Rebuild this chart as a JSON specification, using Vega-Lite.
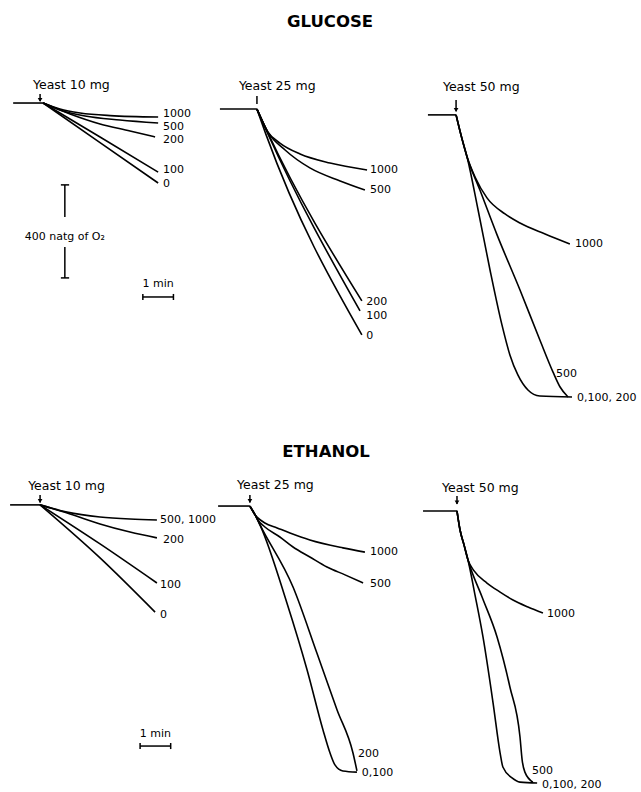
{
  "$schema": "https://vega.github.io/schema/vega-lite/v6.json",
  "background": "white",
  "padding": 0,
  "spacing": 25,
  "config": {"view": {"stroke": null}, "font": "DejaVu Sans", "text": {"color": "black", "font": "DejaVu Sans"}},
  "vconcat": [
    {
      "data": {"values": [
        {"yeast":25,"k":"title","txt":"GLUCOSE","t":2.49,"v":1668},
        {"yeast":10,"k":"trace","c":"base","t":-1.07,"v":1320},{"yeast":10,"k":"trace","c":"base","t":-0.09,"v":1320},
        {"yeast":10,"k":"trace","c":"1000","t":-0.09,"v":1320},{"yeast":10,"k":"trace","c":"1000","t":0.46,"v":1294},{"yeast":10,"k":"trace","c":"1000","t":1.12,"v":1277},{"yeast":10,"k":"trace","c":"1000","t":2.10,"v":1266},{"yeast":10,"k":"trace","c":"1000","t":3.67,"v":1260},
        {"yeast":10,"k":"trace","c":"500","t":-0.09,"v":1320},{"yeast":10,"k":"trace","c":"500","t":0.46,"v":1290},{"yeast":10,"k":"trace","c":"500","t":1.28,"v":1264},{"yeast":10,"k":"trace","c":"500","t":2.42,"v":1247},{"yeast":10,"k":"trace","c":"500","t":3.67,"v":1234},
        {"yeast":10,"k":"trace","c":"200","t":-0.09,"v":1320},{"yeast":10,"k":"trace","c":"200","t":0.79,"v":1273},{"yeast":10,"k":"trace","c":"200","t":1.77,"v":1230},{"yeast":10,"k":"trace","c":"200","t":2.75,"v":1200},{"yeast":10,"k":"trace","c":"200","t":3.57,"v":1174},
        {"yeast":10,"k":"trace","c":"100","t":-0.09,"v":1320},{"yeast":10,"k":"trace","c":"100","t":1.77,"v":1174},{"yeast":10,"k":"trace","c":"100","t":3.67,"v":1023},
        {"yeast":10,"k":"trace","c":"0","t":-0.09,"v":1320},{"yeast":10,"k":"trace","c":"0","t":1.77,"v":1150},{"yeast":10,"k":"trace","c":"0","t":3.67,"v":976},
        {"yeast":10,"k":"label","txt":"1000","t":3.83,"v":1273},{"yeast":10,"k":"label","txt":"500","t":3.83,"v":1217},{"yeast":10,"k":"label","txt":"200","t":3.83,"v":1161},{"yeast":10,"k":"label","txt":"100","t":3.83,"v":1032},{"yeast":10,"k":"label","txt":"0","t":3.83,"v":972},
        {"yeast":10,"k":"yeastlab","txt":"Yeast 10 mg","t":-0.42,"v":1398},
        {"yeast":10,"k":"scale","t":-0.19,"t2":-0.19,"v":1359,"v2":1329},
        {"yeast":10,"k":"head","t":-0.19,"v":1333},
        {"yeast":10,"k":"scaletext","txt":"400 natg of O₂","t":0.62,"v":744},
        {"yeast":10,"k":"scaletext","txt":"1 min","t":3.67,"v":542},
        {"yeast":10,"k":"scale","t":0.62,"t2":0.62,"v":968,"v2":830},
        {"yeast":10,"k":"scale","t":0.62,"t2":0.62,"v":701,"v2":568},
        {"yeast":10,"k":"scale","t":0.49,"t2":0.76,"v":968,"v2":968},
        {"yeast":10,"k":"scale","t":0.49,"t2":0.76,"v":568,"v2":568},
        {"yeast":10,"k":"scale","t":3.17,"t2":4.17,"v":486,"v2":486},
        {"yeast":10,"k":"scale","t":3.17,"t2":3.17,"v":499,"v2":473},
        {"yeast":10,"k":"scale","t":4.17,"t2":4.17,"v":499,"v2":473},

        {"yeast":25,"k":"trace","c":"base","t":-1.11,"v":1294},{"yeast":25,"k":"trace","c":"base","t":0.10,"v":1294},
        {"yeast":25,"k":"trace","c":"1000","t":0.10,"v":1294},{"yeast":25,"k":"trace","c":"1000","t":0.46,"v":1195},{"yeast":25,"k":"trace","c":"1000","t":0.85,"v":1148},{"yeast":25,"k":"trace","c":"1000","t":1.51,"v":1101},{"yeast":25,"k":"trace","c":"1000","t":2.49,"v":1062},{"yeast":25,"k":"trace","c":"1000","t":3.70,"v":1032},
        {"yeast":25,"k":"trace","c":"500","t":0.10,"v":1294},{"yeast":25,"k":"trace","c":"500","t":0.46,"v":1195},{"yeast":25,"k":"trace","c":"500","t":1.02,"v":1118},{"yeast":25,"k":"trace","c":"500","t":1.83,"v":1041},{"yeast":25,"k":"trace","c":"500","t":2.82,"v":985},{"yeast":25,"k":"trace","c":"500","t":3.63,"v":946},
        {"yeast":25,"k":"trace","c":"200","t":0.10,"v":1294},{"yeast":25,"k":"trace","c":"200","t":0.46,"v":1191},{"yeast":25,"k":"trace","c":"200","t":3.53,"v":469},
        {"yeast":25,"k":"trace","c":"100","t":0.10,"v":1294},{"yeast":25,"k":"trace","c":"100","t":0.46,"v":1187},{"yeast":25,"k":"trace","c":"100","t":3.47,"v":426},
        {"yeast":25,"k":"trace","c":"0","t":0.10,"v":1294},{"yeast":25,"k":"trace","c":"0","t":0.40,"v":1183},{"yeast":25,"k":"trace","c":"0","t":3.53,"v":323},
        {"yeast":25,"k":"label","txt":"1000","t":3.80,"v":1032},{"yeast":25,"k":"label","txt":"500","t":3.80,"v":946},{"yeast":25,"k":"label","txt":"200","t":3.67,"v":464},{"yeast":25,"k":"label","txt":"100","t":3.67,"v":404},{"yeast":25,"k":"label","txt":"0","t":3.67,"v":318},
        {"yeast":25,"k":"yeastlab","txt":"Yeast 25 mg","t":-0.49,"v":1393},
        {"yeast":25,"k":"scale","t":0.10,"t2":0.10,"v":1350,"v2":1316},

        {"yeast":50,"k":"trace","c":"base","t":-1.11,"v":1269},{"yeast":50,"k":"trace","c":"base","t":-0.19,"v":1269},
        {"yeast":50,"k":"trace","c":"1000","t":-0.19,"v":1269},{"yeast":50,"k":"trace","c":"1000","t":-0.03,"v":1183},{"yeast":50,"k":"trace","c":"1000","t":0.17,"v":1088},{"yeast":50,"k":"trace","c":"1000","t":0.43,"v":1002},{"yeast":50,"k":"trace","c":"1000","t":0.82,"v":912},{"yeast":50,"k":"trace","c":"1000","t":1.41,"v":843},{"yeast":50,"k":"trace","c":"1000","t":1.90,"v":804},{"yeast":50,"k":"trace","c":"1000","t":2.72,"v":757},{"yeast":50,"k":"trace","c":"1000","t":3.53,"v":714},
        {"yeast":50,"k":"trace","c":"500","t":-0.19,"v":1269},{"yeast":50,"k":"trace","c":"500","t":-0.03,"v":1183},{"yeast":50,"k":"trace","c":"500","t":0.17,"v":1088},{"yeast":50,"k":"trace","c":"500","t":0.59,"v":946},{"yeast":50,"k":"trace","c":"500","t":1.15,"v":753},{"yeast":50,"k":"trace","c":"500","t":1.90,"v":516},{"yeast":50,"k":"trace","c":"500","t":2.55,"v":301},{"yeast":50,"k":"trace","c":"500","t":2.98,"v":163},{"yeast":50,"k":"trace","c":"500","t":3.21,"v":99},{"yeast":50,"k":"trace","c":"500","t":3.47,"v":56},
        {"yeast":50,"k":"trace","c":"0,100,200","t":-0.19,"v":1269},{"yeast":50,"k":"trace","c":"0,100,200","t":-0.03,"v":1183},{"yeast":50,"k":"trace","c":"0,100,200","t":0.17,"v":1088},{"yeast":50,"k":"trace","c":"0,100,200","t":0.53,"v":860},{"yeast":50,"k":"trace","c":"0,100,200","t":0.92,"v":602},{"yeast":50,"k":"trace","c":"0,100,200","t":1.31,"v":366},{"yeast":50,"k":"trace","c":"0,100,200","t":1.57,"v":237},{"yeast":50,"k":"trace","c":"0,100,200","t":1.83,"v":151},{"yeast":50,"k":"trace","c":"0,100,200","t":2.16,"v":86},{"yeast":50,"k":"trace","c":"0,100,200","t":2.55,"v":60},{"yeast":50,"k":"trace","c":"0,100,200","t":3.60,"v":56},
        {"yeast":50,"k":"label","txt":"1000","t":3.70,"v":714},{"yeast":50,"k":"label","txt":"500","t":3.08,"v":155},{"yeast":50,"k":"label","txt":"0,100, 200","t":3.76,"v":52},
        {"yeast":50,"k":"yeastlab","txt":"Yeast 50 mg","t":-0.62,"v":1389},
        {"yeast":50,"k":"scale","t":-0.19,"t2":-0.19,"v":1333,"v2":1285},
        {"yeast":50,"k":"head","t":-0.19,"v":1290}
      ]},
      "facet": {"column": {"field": "yeast", "type": "ordinal", "header": {"title": null, "labels": false}}},
      "spacing": 0,
      "bounds": "flush",
      "spec": {
        "width": 208,
        "height": 410,
        "encoding": {
          "x": {"field": "t", "type": "quantitative", "scale": {"domain": [-1.5, 5.3], "nice": false, "zero": false}, "axis": null},
          "y": {"field": "v", "type": "quantitative", "scale": {"domain": [0, 1763], "nice": false, "zero": false}, "axis": null}
        },
        "layer": [
          {"transform": [{"filter": "datum.k === 'trace'"}], "mark": {"type": "line", "color": "black", "strokeWidth": 1.6, "interpolate": "monotone", "strokeJoin": "round"}, "encoding": {"detail": {"field": "c"}}},
          {"transform": [{"filter": "datum.k === 'scale'"}], "mark": {"type": "rule", "color": "black", "strokeWidth": 1.5}, "encoding": {"x2": {"field": "t2"}, "y2": {"field": "v2"}}},
          {"transform": [{"filter": "datum.k === 'head'"}], "mark": {"type": "point", "shape": "triangle-down", "filled": true, "color": "black", "opacity": 1, "size": 22}},
          {"transform": [{"filter": "datum.k === 'label'"}], "mark": {"type": "text", "align": "left", "baseline": "middle", "fontSize": 11, "color": "black"}, "encoding": {"text": {"field": "txt"}}},
          {"transform": [{"filter": "datum.k === 'yeastlab'"}], "mark": {"type": "text", "align": "left", "baseline": "middle", "fontSize": 12.5, "color": "black"}, "encoding": {"text": {"field": "txt"}}},
          {"transform": [{"filter": "datum.k === 'scaletext'"}], "mark": {"type": "text", "align": "center", "baseline": "middle", "fontSize": 11, "color": "black"}, "encoding": {"text": {"field": "txt"}}},
          {"transform": [{"filter": "datum.k === 'title'"}], "mark": {"type": "text", "align": "center", "baseline": "middle", "fontSize": 16.5, "fontWeight": "bold", "color": "black"}, "encoding": {"text": {"field": "txt"}}}
        ]
      }
    },
    {
      "data": {"values": [
        {"yeast":25,"k":"title","txt":"ETHANOL","t":2.36,"v":1453},
        {"yeast":10,"k":"trace","c":"base","t":-1.17,"v":1226},{"yeast":10,"k":"trace","c":"base","t":-0.19,"v":1226},
        {"yeast":10,"k":"trace","c":"500,1000","t":-0.19,"v":1226},{"yeast":10,"k":"trace","c":"500,1000","t":0.69,"v":1195},{"yeast":10,"k":"trace","c":"500,1000","t":1.77,"v":1174},{"yeast":10,"k":"trace","c":"500,1000","t":2.75,"v":1165},{"yeast":10,"k":"trace","c":"500,1000","t":3.63,"v":1161},
        {"yeast":10,"k":"trace","c":"200","t":-0.19,"v":1226},{"yeast":10,"k":"trace","c":"200","t":0.79,"v":1187},{"yeast":10,"k":"trace","c":"200","t":1.77,"v":1144},{"yeast":10,"k":"trace","c":"200","t":2.75,"v":1109},{"yeast":10,"k":"trace","c":"200","t":3.63,"v":1084},
        {"yeast":10,"k":"trace","c":"100","t":-0.19,"v":1226},{"yeast":10,"k":"trace","c":"100","t":1.77,"v":1058},{"yeast":10,"k":"trace","c":"100","t":3.63,"v":890},
        {"yeast":10,"k":"trace","c":"0","t":-0.19,"v":1226},{"yeast":10,"k":"trace","c":"0","t":1.77,"v":998},{"yeast":10,"k":"trace","c":"0","t":3.57,"v":765},
        {"yeast":10,"k":"label","txt":"500, 1000","t":3.73,"v":1161},{"yeast":10,"k":"label","txt":"200","t":3.83,"v":1075},{"yeast":10,"k":"label","txt":"100","t":3.73,"v":882},{"yeast":10,"k":"label","txt":"0","t":3.73,"v":753},
        {"yeast":10,"k":"yeastlab","txt":"Yeast 10 mg","t":-0.58,"v":1307},
        {"yeast":10,"k":"scale","t":-0.19,"t2":-0.19,"v":1268,"v2":1236},
        {"yeast":10,"k":"head","t":-0.19,"v":1243},
        {"yeast":10,"k":"scaletext","txt":"1 min","t":3.58,"v":241},
        {"yeast":10,"k":"scale","t":3.08,"t2":4.08,"v":189,"v2":189},
        {"yeast":10,"k":"scale","t":3.08,"t2":3.08,"v":202,"v2":176},
        {"yeast":10,"k":"scale","t":4.08,"t2":4.08,"v":202,"v2":176},

        {"yeast":25,"k":"trace","c":"base","t":-1.17,"v":1221},{"yeast":25,"k":"trace","c":"base","t":-0.13,"v":1221},
        {"yeast":25,"k":"trace","c":"1000","t":-0.13,"v":1221},{"yeast":25,"k":"trace","c":"1000","t":0.04,"v":1183},{"yeast":25,"k":"trace","c":"1000","t":0.13,"v":1170},{"yeast":25,"k":"trace","c":"1000","t":0.36,"v":1148},{"yeast":25,"k":"trace","c":"1000","t":0.76,"v":1127},{"yeast":25,"k":"trace","c":"1000","t":1.18,"v":1105},{"yeast":25,"k":"trace","c":"1000","t":1.83,"v":1075},{"yeast":25,"k":"trace","c":"1000","t":2.91,"v":1041},{"yeast":25,"k":"trace","c":"1000","t":3.63,"v":1023},
        {"yeast":25,"k":"trace","c":"500","t":-0.13,"v":1221},{"yeast":25,"k":"trace","c":"500","t":0.04,"v":1183},{"yeast":25,"k":"trace","c":"500","t":0.13,"v":1161},{"yeast":25,"k":"trace","c":"500","t":0.36,"v":1131},{"yeast":25,"k":"trace","c":"500","t":0.85,"v":1088},{"yeast":25,"k":"trace","c":"500","t":1.28,"v":1045},{"yeast":25,"k":"trace","c":"500","t":1.83,"v":1002},{"yeast":25,"k":"trace","c":"500","t":2.39,"v":959},{"yeast":25,"k":"trace","c":"500","t":2.98,"v":925},{"yeast":25,"k":"trace","c":"500","t":3.57,"v":890},
        {"yeast":25,"k":"trace","c":"200","t":-0.13,"v":1221},{"yeast":25,"k":"trace","c":"200","t":0.04,"v":1183},{"yeast":25,"k":"trace","c":"200","t":0.20,"v":1140},{"yeast":25,"k":"trace","c":"200","t":1.28,"v":873},{"yeast":25,"k":"trace","c":"200","t":2.06,"v":589},{"yeast":25,"k":"trace","c":"200","t":2.72,"v":344},{"yeast":25,"k":"trace","c":"200","t":3.24,"v":159},{"yeast":25,"k":"trace","c":"200","t":3.37,"v":82},
        {"yeast":25,"k":"trace","c":"0,100","t":-0.13,"v":1221},{"yeast":25,"k":"trace","c":"0,100","t":0.04,"v":1183},{"yeast":25,"k":"trace","c":"0,100","t":0.20,"v":1140},{"yeast":25,"k":"trace","c":"0,100","t":1.08,"v":804},{"yeast":25,"k":"trace","c":"0,100","t":1.74,"v":516},{"yeast":25,"k":"trace","c":"0,100","t":2.26,"v":258},{"yeast":25,"k":"trace","c":"0,100","t":2.49,"v":159},{"yeast":25,"k":"trace","c":"0,100","t":2.65,"v":108},{"yeast":25,"k":"trace","c":"0,100","t":2.91,"v":82},{"yeast":25,"k":"trace","c":"0,100","t":3.37,"v":77},
        {"yeast":25,"k":"label","txt":"1000","t":3.80,"v":1023},{"yeast":25,"k":"label","txt":"500","t":3.80,"v":886},{"yeast":25,"k":"label","txt":"200","t":3.40,"v":155},{"yeast":25,"k":"label","txt":"0,100","t":3.53,"v":73},
        {"yeast":25,"k":"yeastlab","txt":"Yeast 25 mg","t":-0.55,"v":1312},
        {"yeast":25,"k":"scale","t":-0.13,"t2":-0.13,"v":1268,"v2":1236},
        {"yeast":25,"k":"head","t":-0.13,"v":1243},

        {"yeast":50,"k":"trace","c":"base","t":-1.27,"v":1200},{"yeast":50,"k":"trace","c":"base","t":-0.16,"v":1200},
        {"yeast":50,"k":"trace","c":"1000","t":-0.16,"v":1200},{"yeast":50,"k":"trace","c":"1000","t":-0.06,"v":1118},{"yeast":50,"k":"trace","c":"1000","t":0.07,"v":1054},{"yeast":50,"k":"trace","c":"1000","t":0.20,"v":989},{"yeast":50,"k":"trace","c":"1000","t":0.40,"v":942},{"yeast":50,"k":"trace","c":"1000","t":0.82,"v":890},{"yeast":50,"k":"trace","c":"1000","t":1.25,"v":851},{"yeast":50,"k":"trace","c":"1000","t":1.67,"v":817},{"yeast":50,"k":"trace","c":"1000","t":2.16,"v":787},{"yeast":50,"k":"trace","c":"1000","t":2.65,"v":761},
        {"yeast":50,"k":"trace","c":"500","t":-0.16,"v":1200},{"yeast":50,"k":"trace","c":"500","t":-0.06,"v":1118},{"yeast":50,"k":"trace","c":"500","t":0.07,"v":1054},{"yeast":50,"k":"trace","c":"500","t":0.20,"v":989},{"yeast":50,"k":"trace","c":"500","t":0.66,"v":830},{"yeast":50,"k":"trace","c":"500","t":1.15,"v":658},{"yeast":50,"k":"trace","c":"500","t":1.57,"v":443},{"yeast":50,"k":"trace","c":"500","t":1.90,"v":228},{"yeast":50,"k":"trace","c":"500","t":1.97,"v":129},{"yeast":50,"k":"trace","c":"500","t":2.06,"v":77},{"yeast":50,"k":"trace","c":"500","t":2.32,"v":34},
        {"yeast":50,"k":"trace","c":"0,100,200","t":-0.16,"v":1200},{"yeast":50,"k":"trace","c":"0,100,200","t":-0.06,"v":1118},{"yeast":50,"k":"trace","c":"0,100,200","t":0.07,"v":1054},{"yeast":50,"k":"trace","c":"0,100,200","t":0.20,"v":989},{"yeast":50,"k":"trace","c":"0,100,200","t":0.43,"v":838},{"yeast":50,"k":"trace","c":"0,100,200","t":0.69,"v":658},{"yeast":50,"k":"trace","c":"0,100,200","t":1.02,"v":374},{"yeast":50,"k":"trace","c":"0,100,200","t":1.25,"v":159},{"yeast":50,"k":"trace","c":"0,100,200","t":1.34,"v":99},{"yeast":50,"k":"trace","c":"0,100,200","t":1.64,"v":52},{"yeast":50,"k":"trace","c":"0,100,200","t":1.90,"v":34},{"yeast":50,"k":"trace","c":"0,100,200","t":2.46,"v":30},
        {"yeast":50,"k":"label","txt":"1000","t":2.78,"v":757},{"yeast":50,"k":"label","txt":"500","t":2.29,"v":82},{"yeast":50,"k":"label","txt":"0,100, 200","t":2.62,"v":22},
        {"yeast":50,"k":"yeastlab","txt":"Yeast 50 mg","t":-0.65,"v":1299},
        {"yeast":50,"k":"scale","t":-0.16,"t2":-0.16,"v":1264,"v2":1230},
        {"yeast":50,"k":"head","t":-0.16,"v":1236}
      ]},
      "facet": {"column": {"field": "yeast", "type": "ordinal", "header": {"title": null, "labels": false}}},
      "spacing": 0,
      "bounds": "flush",
      "spec": {
        "width": 208,
        "height": 355,
        "encoding": {
          "x": {"field": "t", "type": "quantitative", "scale": {"domain": [-1.5, 5.3], "nice": false, "zero": false}, "axis": null},
          "y": {"field": "v", "type": "quantitative", "scale": {"domain": [0, 1526.5], "nice": false, "zero": false}, "axis": null}
        },
        "layer": [
          {"transform": [{"filter": "datum.k === 'trace'"}], "mark": {"type": "line", "color": "black", "strokeWidth": 1.6, "interpolate": "monotone", "strokeJoin": "round"}, "encoding": {"detail": {"field": "c"}}},
          {"transform": [{"filter": "datum.k === 'scale'"}], "mark": {"type": "rule", "color": "black", "strokeWidth": 1.5}, "encoding": {"x2": {"field": "t2"}, "y2": {"field": "v2"}}},
          {"transform": [{"filter": "datum.k === 'head'"}], "mark": {"type": "point", "shape": "triangle-down", "filled": true, "color": "black", "opacity": 1, "size": 22}},
          {"transform": [{"filter": "datum.k === 'label'"}], "mark": {"type": "text", "align": "left", "baseline": "middle", "fontSize": 11, "color": "black"}, "encoding": {"text": {"field": "txt"}}},
          {"transform": [{"filter": "datum.k === 'yeastlab'"}], "mark": {"type": "text", "align": "left", "baseline": "middle", "fontSize": 12.5, "color": "black"}, "encoding": {"text": {"field": "txt"}}},
          {"transform": [{"filter": "datum.k === 'scaletext'"}], "mark": {"type": "text", "align": "center", "baseline": "middle", "fontSize": 11, "color": "black"}, "encoding": {"text": {"field": "txt"}}},
          {"transform": [{"filter": "datum.k === 'title'"}], "mark": {"type": "text", "align": "center", "baseline": "middle", "fontSize": 16.5, "fontWeight": "bold", "color": "black"}, "encoding": {"text": {"field": "txt"}}}
        ]
      }
    }
  ]
}
